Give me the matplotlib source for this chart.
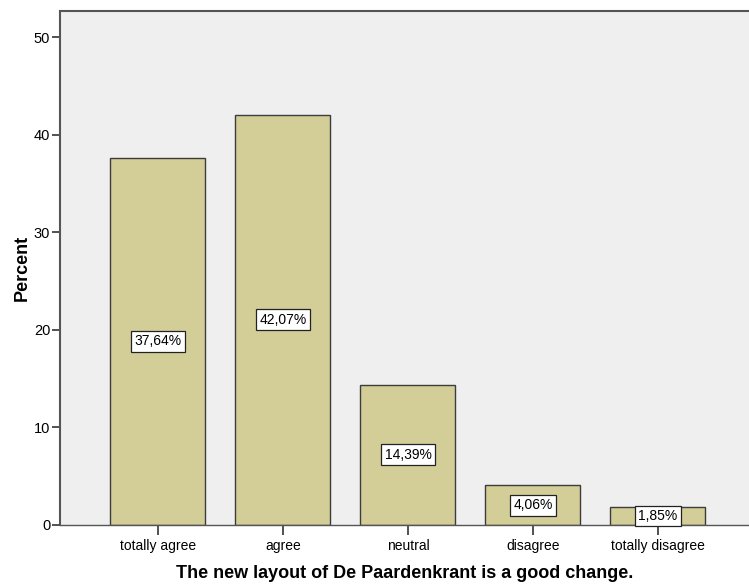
import matplotlib
matplotlib.use("Agg")
import matplotlib.pyplot as plt

categories = ["totally agree", "agree", "neutral", "disagree", "totally disagree"]
percents = [37.64, 42.07, 14.39, 4.06, 1.85]
value_labels = ["37,64%", "42,07%", "14,39%", "4,06%", "1,85%"]
yticks = [0, 10, 20, 30, 40, 50]

plt.rcParams['font.family'] = ['Liberation Sans', 'DejaVu Sans']

fig = plt.figure(figsize=(7.49, 5.86), dpi=100)
ax = fig.add_axes([0.0801, 0.1041, 0.9199, 0.8771])
ax.set_facecolor("#EFEFEF")

x = list(range(len(categories)))
ax.bar(x, percents, width=0.76, color="#D3CE97", edgecolor="#3C3C3C", linewidth=1.0, zorder=2)

for xi, v, lab in zip(x, percents, value_labels):
    ax.text(xi, v / 2, lab, ha="center", va="center", fontsize=10, zorder=3,
            bbox=dict(boxstyle="square,pad=0.25", facecolor="white", edgecolor="#222222", linewidth=0.9))

ax.set_xlim(-0.784, 4.728)
ax.set_ylim(0, 52.7)
ax.set_yticks(yticks)
ax.set_xticks(x)
ax.set_xticklabels(categories, fontsize=10)
ax.tick_params(axis="y", labelsize=10.5, length=6, width=1.2, color="#333333", direction="out", pad=1)
ax.tick_params(axis="x", length=7, width=1.2, color="#333333", direction="out", pad=3)

for s in ["left", "top"]:
    ax.spines[s].set_color("#555555")
    ax.spines[s].set_linewidth(1.5)
ax.spines["bottom"].set_color("#555555")
ax.spines["bottom"].set_linewidth(1.0)
ax.spines["right"].set_visible(False)

ax.set_xlabel("The new layout of De Paardenkrant is a good change.", fontsize=13, fontweight="bold", labelpad=9)
ax.set_ylabel("Percent", fontsize=13, fontweight="bold", labelpad=2.5)

fig.savefig("out.png", dpi=100)
